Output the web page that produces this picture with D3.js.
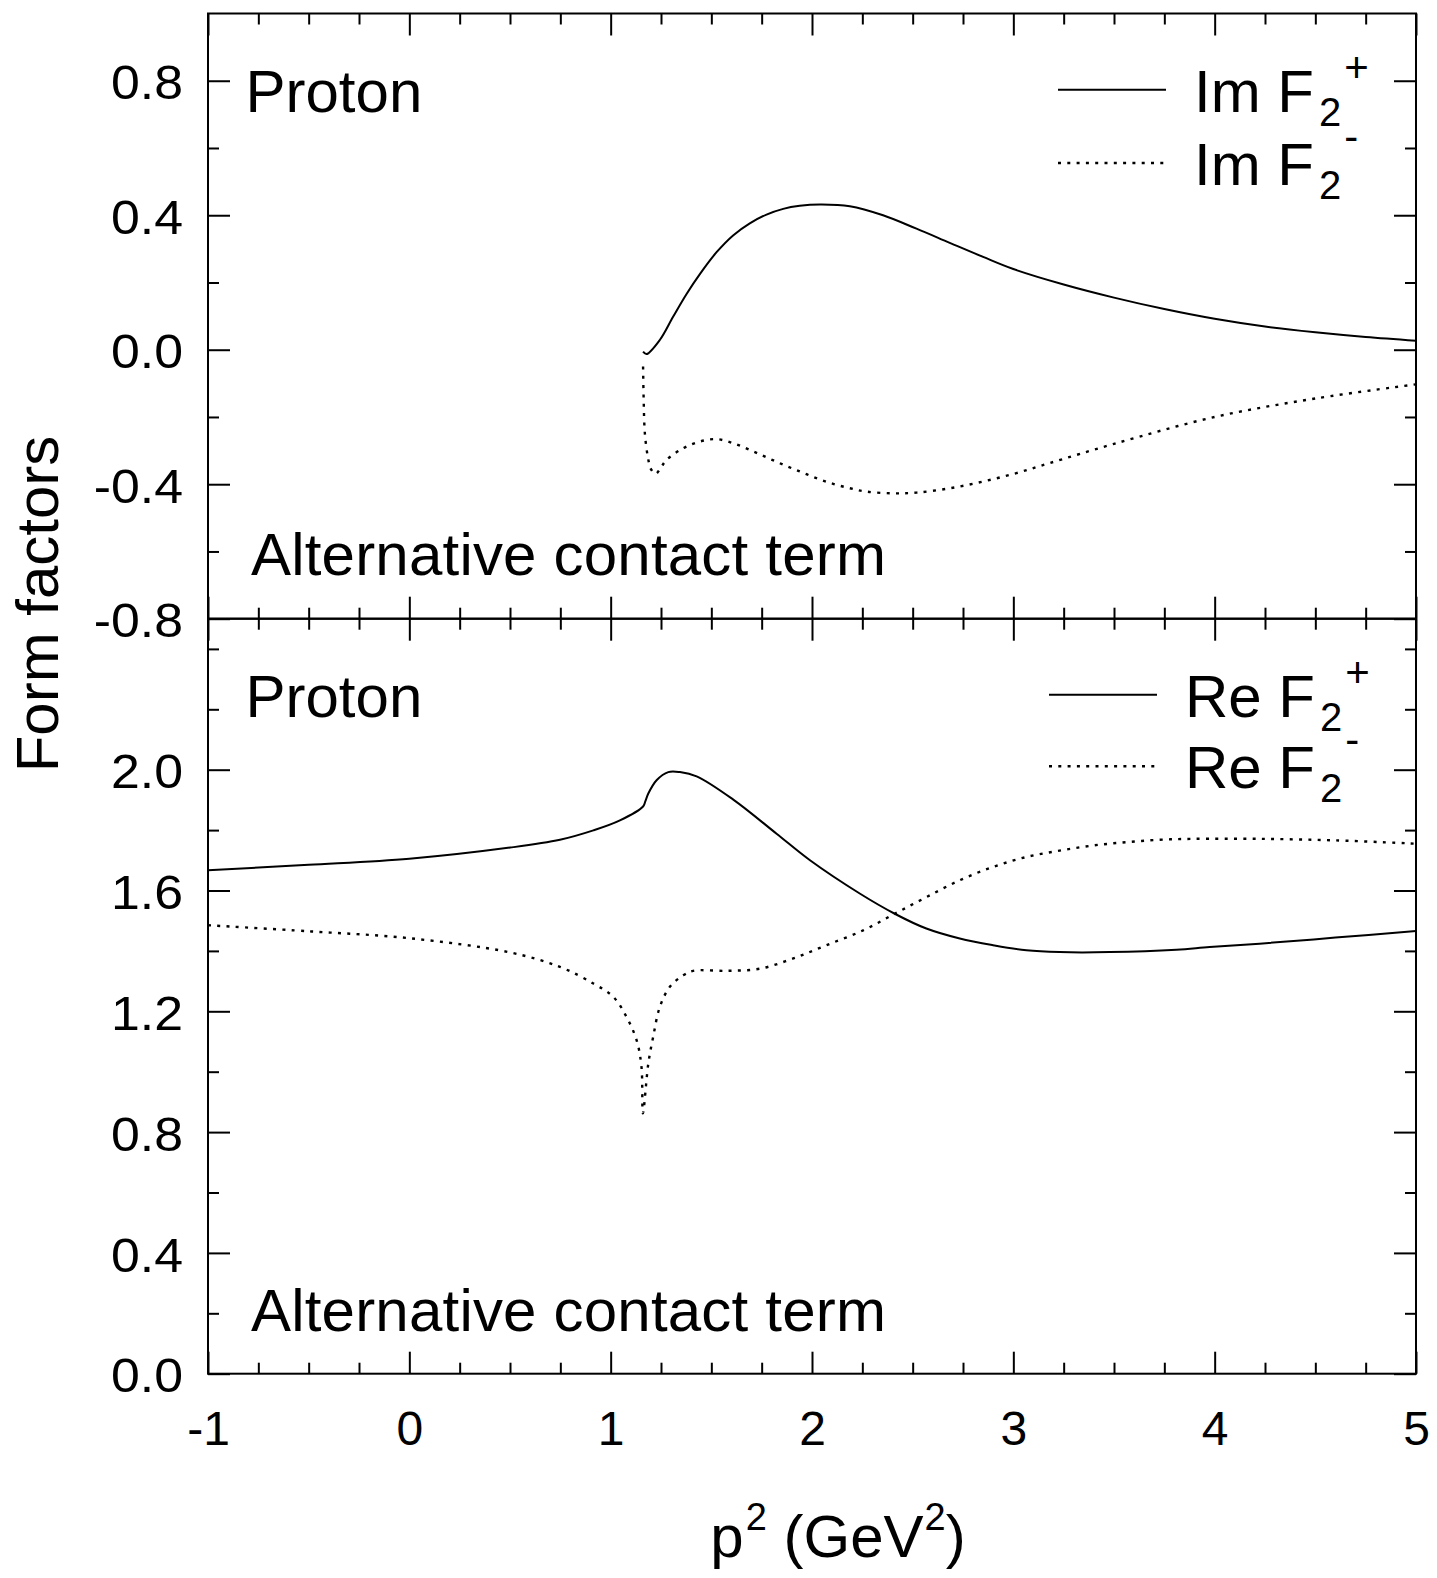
<!DOCTYPE html>
<html>
<head>
<meta charset="utf-8">
<script src="https://cdn.jsdelivr.net/npm/d3@7/dist/d3.min.js"></script>
<style>
  html, body { margin: 0; padding: 0; background: #fff; }
  svg { display: block; }
  text { font-family: "Liberation Sans", Arial, Helvetica, sans-serif; fill: #000; }
</style>
</head>
<body>
<svg id="chart" width="1437" height="1578"></svg>
<script>
// ---------------- DATA ----------------
const xMajorTicks = [-1, 0, 1, 2, 3, 4, 5];
const xTickLabels = ["-1", "0", "1", "2", "3", "4", "5"];

const topMajorTicks = [-0.8, -0.4, 0.0, 0.4, 0.8];
const topMinorTicks = [-0.6, -0.2, 0.2, 0.6];
const topTickLabels = ["-0.8", "-0.4", "0.0", "0.4", "0.8"];

const botMajorTicks = [0.0, 0.4, 0.8, 1.2, 1.6, 2.0];
const botMinorTicks = [0.2, 0.6, 1.0, 1.4, 1.8, 2.2, 2.4];
const botTickLabels = ["0.0", "0.4", "0.8", "1.2", "1.6", "2.0"];

// Im F2+ (solid, top panel)
const imPlusX = [1.161, 1.178, 1.244, 1.310, 1.377, 1.443, 1.526, 1.608, 1.691, 1.774, 1.857, 1.939, 2.039, 2.188, 2.353, 2.519, 2.684, 2.850, 3.000, 3.250, 3.500, 3.750, 4.000, 4.250, 4.500, 4.750, 5.000];
const imPlusY = [-0.006, -0.013, 0.029, 0.098, 0.166, 0.225, 0.290, 0.340, 0.376, 0.402, 0.419, 0.428, 0.432, 0.427, 0.400, 0.360, 0.318, 0.276, 0.240, 0.194, 0.155, 0.121, 0.092, 0.069, 0.052, 0.038, 0.027];

// Im F2- (dotted, top panel)
const imMinusX = [1.161, 1.164, 1.170, 1.185, 1.200, 1.224, 1.250, 1.277, 1.360, 1.443, 1.526, 1.608, 1.691, 1.774, 1.857, 1.939, 2.022, 2.105, 2.188, 2.270, 2.403, 2.519, 2.684, 2.850, 3.015, 3.181, 3.500, 4.000, 4.500, 5.000];
const imMinusY = [-0.050, -0.150, -0.250, -0.320, -0.355, -0.369, -0.350, -0.328, -0.293, -0.273, -0.266, -0.278, -0.298, -0.320, -0.342, -0.362, -0.382, -0.399, -0.412, -0.422, -0.427, -0.425, -0.412, -0.392, -0.367, -0.337, -0.280, -0.200, -0.145, -0.103];

// Re F2+ (solid, bottom panel)
const rePlusX = [-1.000, -0.500, 0.000, 0.500, 0.748, 0.914, 1.046, 1.162, 1.172, 1.187, 1.228, 1.286, 1.344, 1.427, 1.609, 1.824, 1.990, 2.237, 2.411, 2.568, 2.734, 2.899, 3.065, 3.230, 3.479, 3.810, 3.975, 4.223, 4.600, 5.000];
const rePlusY = [1.667, 1.685, 1.705, 1.742, 1.768, 1.799, 1.832, 1.879, 1.895, 1.921, 1.965, 1.992, 1.992, 1.978, 1.901, 1.788, 1.700, 1.590, 1.523, 1.474, 1.441, 1.419, 1.402, 1.396, 1.396, 1.404, 1.413, 1.424, 1.444, 1.466];

// Re F2- (dotted, bottom panel)
const reMinusX = [-1.000, -0.500, 0.000, 0.500, 0.748, 0.914, 1.013, 1.079, 1.129, 1.153, 1.160, 1.187, 1.211, 1.244, 1.294, 1.360, 1.410, 1.575, 1.741, 1.907, 2.072, 2.254, 2.411, 2.568, 2.734, 2.899, 3.065, 3.230, 3.396, 3.561, 3.727, 3.892, 4.223, 4.600, 5.000];
const reMinusY = [1.485, 1.465, 1.442, 1.395, 1.347, 1.292, 1.248, 1.181, 1.104, 1.016, 0.862, 1.027, 1.115, 1.214, 1.281, 1.319, 1.334, 1.334, 1.341, 1.375, 1.419, 1.468, 1.523, 1.578, 1.634, 1.678, 1.711, 1.732, 1.749, 1.760, 1.768, 1.771, 1.771, 1.766, 1.755];

// ---------------- LAYOUT ----------------
const svg = d3.select("#chart");
const L = 208, R = 1416, T = 13.5, M = 618.7, B = 1373.7;
const FONT = '"Liberation Sans", Arial, Helvetica, sans-serif';

const x = d3.scaleLinear().domain([-1, 5]).range([L, R]);
const yTop = d3.scaleLinear().domain([-0.8, 1.0]).range([M, T]);
const yBot = d3.scaleLinear().domain([0, 2.5]).range([B, M]);

const xMinorTicks = d3.range(-1, 5.001, 0.25).filter(v => Math.abs(v - Math.round(v)) > 1e-6);

const MAJ = 22, MIN = 11;

function styleAxis(g) {
  g.select(".domain").remove();
  g.selectAll(".tick line").attr("stroke", "#000").attr("stroke-width", 2);
  g.selectAll(".tick text").attr("font-family", FONT).attr("fill", "#000");
}

// x axes
function xAxisAt(y, dir, ticks, size, labels) {
  const ax = (dir === "down" ? d3.axisTop(x) : d3.axisBottom(x))
    .tickValues(ticks).tickSizeInner(-size).tickSizeOuter(0);
  if (labels) {
    ax.tickFormat((d, i) => labels[i]).tickPadding(37);
  } else {
    ax.tickFormat("");
  }
  const g = svg.append("g").attr("transform", `translate(0,${y})`).call(ax);
  styleAxis(g);
  return g;
}
xAxisAt(T, "down", xMajorTicks, MAJ);
xAxisAt(T, "down", xMinorTicks, MIN);
xAxisAt(M, "up", xMajorTicks, MAJ);
xAxisAt(M, "up", xMinorTicks, MIN);
xAxisAt(M, "down", xMajorTicks, MAJ);
xAxisAt(M, "down", xMinorTicks, MIN);
const gxb = xAxisAt(B, "up", xMajorTicks, MAJ, xTickLabels);
gxb.selectAll(".tick text").attr("font-size", 48).attr("dy", "0.71em");
xAxisAt(B, "up", xMinorTicks, MIN);

// y axes
function yAxes(scale, major, minor, labels) {
  const axL = d3.axisLeft(scale).tickValues(major).tickSizeInner(-MAJ).tickSizeOuter(0)
    .tickPadding(25).tickFormat((d, i) => labels[i]);
  const gl = svg.append("g").attr("transform", `translate(${L},0)`).call(axL);
  styleAxis(gl);
  gl.selectAll(".tick text")
    .attr("font-size", 48)
    .attr("dy", "0.38em")
    .attr("x", 0)
    .attr("transform", "translate(-25,0) scale(1.08,1)");
  const axLm = d3.axisLeft(scale).tickValues(minor).tickSizeInner(-MIN).tickSizeOuter(0).tickFormat("");
  styleAxis(svg.append("g").attr("transform", `translate(${L},0)`).call(axLm));
  const axR = d3.axisRight(scale).tickValues(major).tickSizeInner(-MAJ).tickSizeOuter(0).tickFormat("");
  styleAxis(svg.append("g").attr("transform", `translate(${R},0)`).call(axR));
  const axRm = d3.axisRight(scale).tickValues(minor).tickSizeInner(-MIN).tickSizeOuter(0).tickFormat("");
  styleAxis(svg.append("g").attr("transform", `translate(${R},0)`).call(axRm));
}
yAxes(yTop, topMajorTicks, topMinorTicks, topTickLabels);
yAxes(yBot, botMajorTicks, botMinorTicks, botTickLabels);

// frames
const frame = svg.append("g").attr("fill", "none").attr("stroke", "#000").attr("stroke-width", 2);
frame.append("rect").attr("x", L).attr("y", T).attr("width", R - L).attr("height", M - T);
frame.append("rect").attr("x", L).attr("y", M).attr("width", R - L).attr("height", B - M);

// curves
function drawCurve(xs, ys, yScale, dotted) {
  const pts = xs.map((v, i) => [v, ys[i]]);
  const line = d3.line().x(d => x(d[0])).y(d => yScale(d[1])).curve(d3.curveCatmullRom.alpha(0.5));
  const p = svg.append("path").datum(pts).attr("d", line)
    .attr("fill", "none").attr("stroke", "#000").attr("stroke-width", dotted ? 2.4 : 2)
    .attr("stroke-linejoin", "round");
  if (dotted) p.attr("stroke-dasharray", "3 6.3");
}
drawCurve(imPlusX, imPlusY, yTop, false);
drawCurve(imMinusX, imMinusY, yTop, true);
drawCurve(rePlusX, rePlusY, yBot, false);
drawCurve(reMinusX, reMinusY, yBot, true);

// panel annotations
function label(txt, xx, yy, size) {
  return svg.append("text").attr("x", xx).attr("y", yy).attr("font-size", size)
    .attr("font-family", FONT).text(txt);
}
label("Proton", 245.5, 111.7, 60);
label("Proton", 245.5, 716.7, 60);
label("Alternative contact term", 251, 575, 60).attr("letter-spacing", 0.2);
label("Alternative contact term", 251, 1330.5, 60).attr("letter-spacing", 0.2);

// legends
function legendEntry(xText, yBase, main, sup, supDy, dotted) {
  const t = svg.append("text").attr("x", xText).attr("y", yBase).attr("font-family", FONT);
  t.append("tspan").attr("font-size", 60).text(main);
  t.append("tspan").attr("font-size", 40).attr("dx", 5).attr("dy", 14).text("2");
  t.append("tspan").attr("font-size", 42).attr("dx", 3).attr("dy", supDy).text(sup);
  const x2 = xText - 28, x1 = x2 - 108;
  const ln = svg.append("line").attr("x1", x1).attr("x2", x2).attr("y1", yBase - 22).attr("y2", yBase - 22)
    .attr("stroke", "#000").attr("stroke-width", dotted ? 2.4 : 2);
  if (dotted) ln.attr("stroke-dasharray", "3 6.3");
}
legendEntry(1194, 111.7, "Im F", "+", -44, false);
legendEntry(1194, 185, "Im F", "-", -48, true);
legendEntry(1185, 716.7, "Re F", "+", -44, false);
legendEntry(1185, 788.3, "Re F", "-", -48, true);

// axis titles
svg.append("text").attr("transform", "translate(58,604) rotate(-90)")
  .attr("text-anchor", "middle").attr("font-size", 60).attr("font-family", FONT).text("Form factors");

const xt = svg.append("text").attr("x", 838).attr("y", 1557).attr("text-anchor", "middle")
  .attr("font-family", FONT).attr("font-size", 60);
xt.append("tspan").text("p");
xt.append("tspan").attr("font-size", 38).attr("dy", -27).attr("dx", 2).text("2");
xt.append("tspan").attr("dy", 27).text(" (GeV");
xt.append("tspan").attr("font-size", 38).attr("dy", -27).attr("dx", 1).text("2");
xt.append("tspan").attr("dy", 27).text(")");
</script>
</body>
</html>
